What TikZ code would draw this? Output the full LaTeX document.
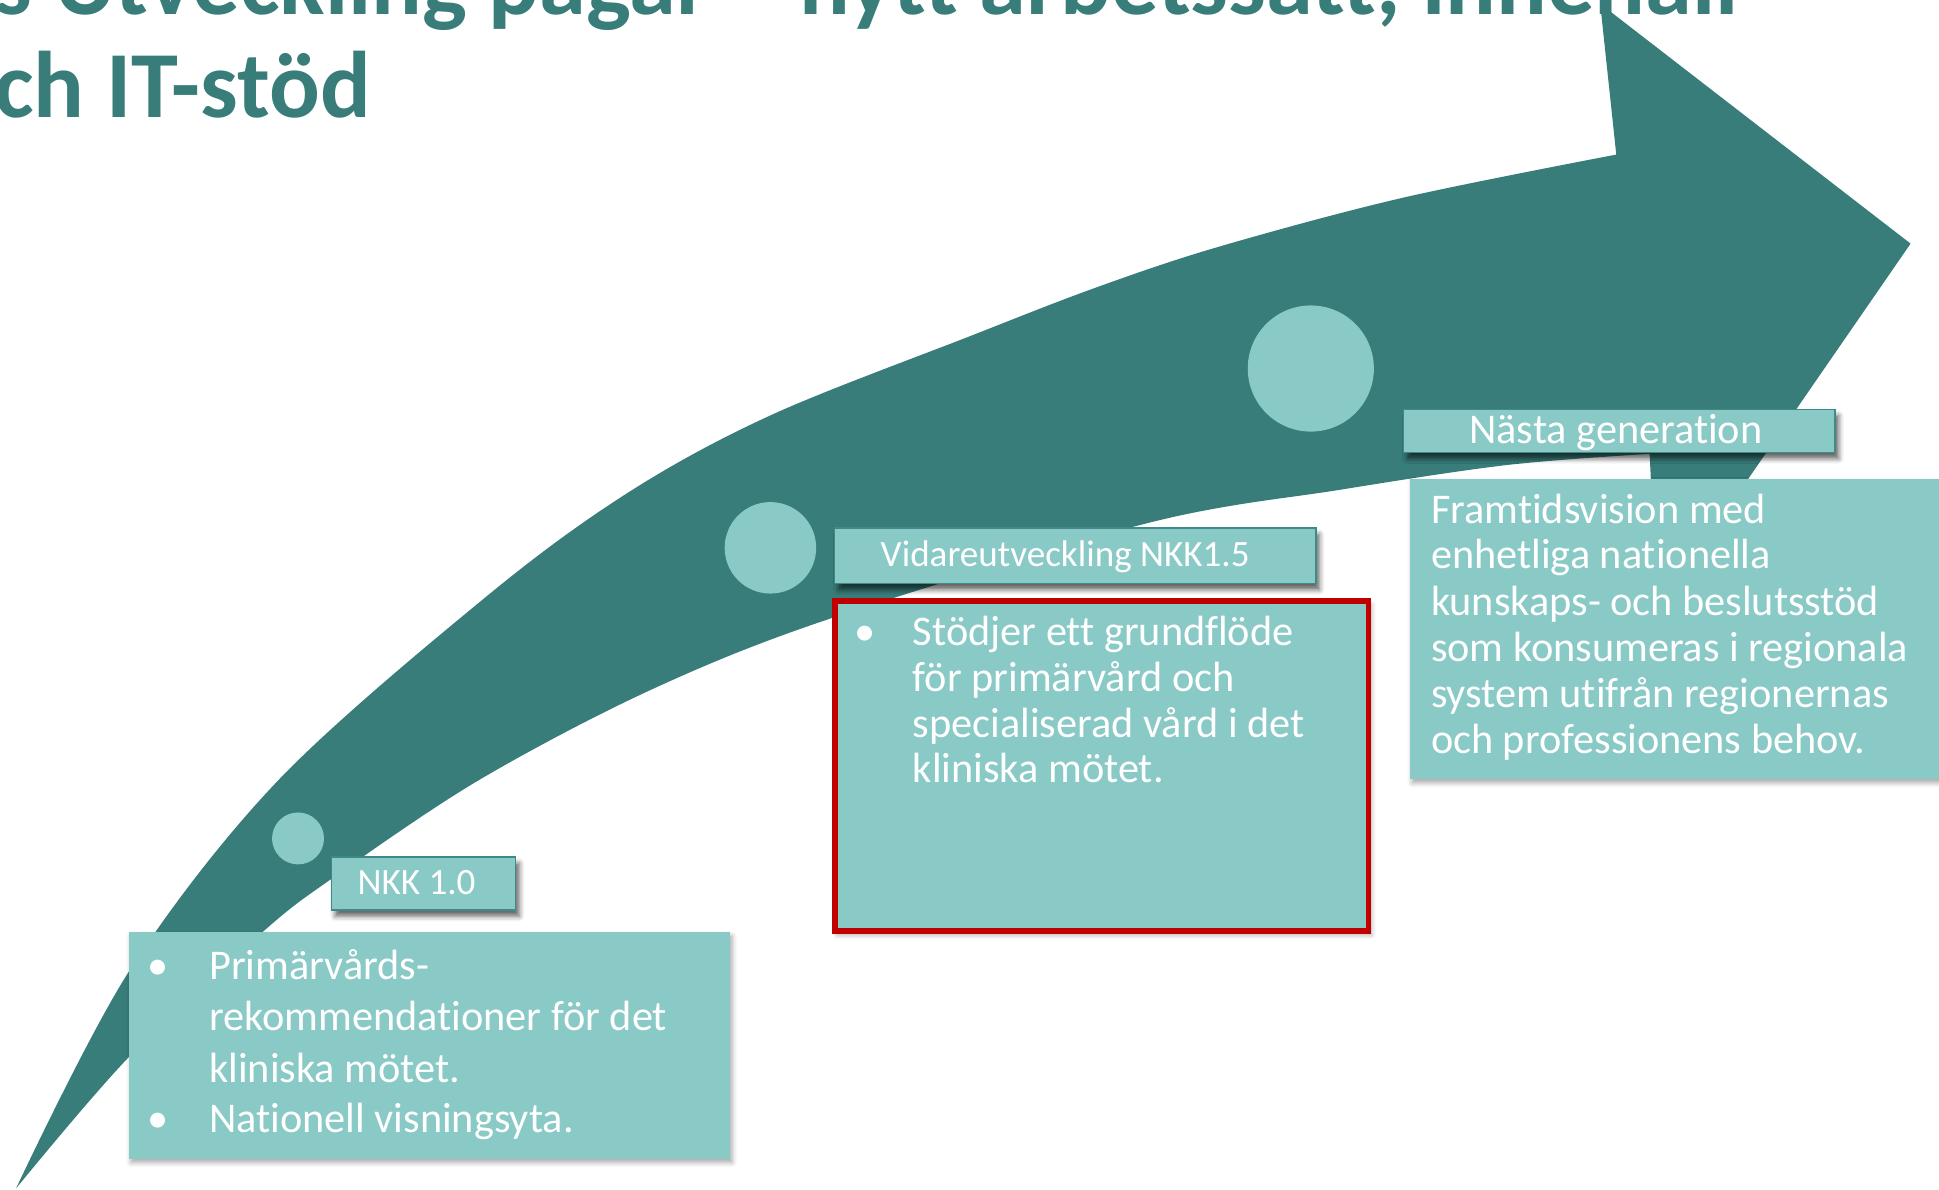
\documentclass[tikz,border=0pt]{standalone}
\usepackage{fontspec}
\setmainfont{Carlito}[Ligatures=NoCommon]
\usetikzlibrary{shadows.blur}
\definecolor{arrowteal}{HTML}{387D7A}
\definecolor{lightteal}{HTML}{89C9C6}
\definecolor{labelborder}{HTML}{3F8A86}
\definecolor{boxred}{HTML}{C00000}
\tikzset{
  rectbox/.style={rectangle, fill=lightteal, inner sep=0pt, outer sep=0pt, anchor=north west,
    blur shadow={shadow xshift=2pt, shadow yshift=-3pt, shadow blur radius=4pt, shadow opacity=35}},
  stagelabel/.style={rectangle, draw=labelborder, line width=1.2pt, fill=lightteal, inner sep=0pt, outer sep=0pt, anchor=north west,
    blur shadow={shadow xshift=3pt, shadow yshift=-5pt, shadow blur radius=4pt, shadow opacity=60}},
  dot/.style={circle, fill=lightteal, draw=none, inner sep=0pt},
  boxtext/.style={anchor=base west, inner sep=0pt, text=white, font=\fontsize{34.2}{41}\selectfont},
  labeltext/.style={anchor=base west, inner sep=0pt, text=white, font=\fontsize{30}{36}\selectfont},
  titletext/.style={anchor=base east, inner sep=0pt, text=arrowteal, font=\fontsize{76.5}{83}\selectfont\bfseries},
}
\begin{document}
\begin{tikzpicture}[x=1pt,y=-1pt]
\clip (0,0) rectangle (1568,961.6);
% title
\node[titletext] (title1) at (1406,12) {s Utveckling pågår – nytt arbetssätt, innehåll};
\node[titletext] (title2) at (300,95) {och IT-stöd};
% arrow
\fill[arrowteal] plot[smooth, tension=0.55] coordinates {(13,961) (104,786) (225,631) (395,481) (510,397) (625,335) (784,272) (885,233) (984,200) (1134,160) (1307,125)}
  -- (1294,3) -- (1545,197) -- (1340,494) -- (1334,367)
  -- plot[smooth, tension=0.55] coordinates {(1334,367) (1219,376) (1084,396) (928,423) (672,500) (526,558) (387,631) (269,710) (212,754) (104,855) (13,961)} -- cycle;
% circles
\node[dot, minimum size=42pt] (c1) at (241,678) {};
\node[dot, minimum size=74pt] (c2) at (623,443) {};
\node[dot, minimum size=102pt] (c3) at (1060,298) {};
% boxes
\node[rectbox, minimum width=486pt, minimum height=183pt] (nkkbox) at (104,754) {};
\node[rectbox, draw=boxred, line width=4.5pt, minimum width=431.6pt, minimum height=266.6pt] (vbox) at (675.2,486.2) {};
\node[rectbox, minimum width=460pt, minimum height=243pt] (fbox) at (1140,387) {};
% labels
\node[stagelabel, minimum width=149pt, minimum height=43pt] (nkklabel) at (268,693) {};
\node[stagelabel, minimum width=389pt, minimum height=45pt] (vlabel) at (675,427) {};
\node[stagelabel, minimum width=349pt, minimum height=35pt] (nlabel) at (1135,331) {};
\node[labeltext] (nkklt) at (289,723) {NKK 1.0};
\node[labeltext] (vlt) at (712,458) {Vidareutveckling NKK1.5};
\node[boxtext] (nlt) at (1188,359) {Nästa generation};
% NKK box text
\node[boxtext] (nb1) at (119,792) {•};
\node[boxtext] (nb2) at (119,916) {•};
\foreach \y/\t [count=\i] in {792/Primärvårds-, 833/rekommendationer för det, 875/kliniska mötet., 916/Nationell visningsyta.}
  \node[boxtext] (nt\i) at (169,\y) {\t};
% red box text
\node[boxtext] (vb1) at (691,522) {•};
\foreach \y/\t [count=\i] in {522/Stödjer ett grundflöde, 559/för primärvård och, 596/specialiserad vård i det, 633/kliniska mötet.}
  \node[boxtext] (vt\i) at (738,\y) {\t};
% future box text
\foreach \y/\t [count=\i] in {423/Framtidsvision med, 460/enhetliga nationella, 498/kunskaps- och beslutsstöd, 535/som konsumeras i regionala, 572/system utifrån regionernas, 609/och professionens behov.}
  \node[boxtext] (ft\i) at (1157,\y) {\t};
\end{tikzpicture}
\end{document}
